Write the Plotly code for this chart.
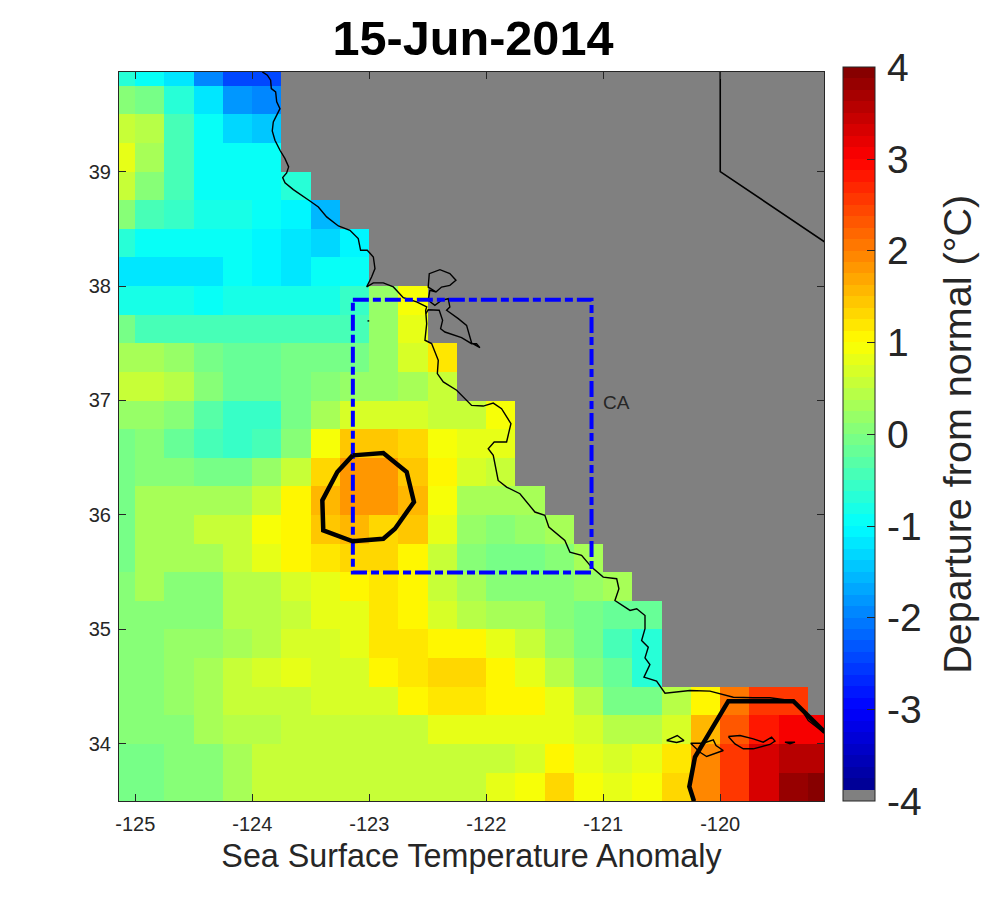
import numpy as np
import plotly.graph_objects as go

N = None

# grid cell centres, 0.25 degree
lons = [-125.125 + 0.25 * i for i in range(25)]
lats = [39.875 - 0.25 * i for i in range(26)]

# SST anomaly, north to south, land is None
sst = [
    [-0.75, -0.9, -1.15, -1.9, -2.4, -2.5, N, N, N, N, N, N, N, N, N, N, N, N, N, N, N, N, N, N, N],
    [0.1, -0.1, -0.75, -1.15, -1.85, -2.0, N, N, N, N, N, N, N, N, N, N, N, N, N, N, N, N, N, N, N],
    [0.6, 0.4, -0.4, -1.0, -1.3, -1.5, N, N, N, N, N, N, N, N, N, N, N, N, N, N, N, N, N, N, N],
    [0.85, 0.25, -0.5, -0.9, -1.0, -1.0, N, N, N, N, N, N, N, N, N, N, N, N, N, N, N, N, N, N, N],
    [0.5, 0.1, -0.5, -0.9, -1.0, -0.9, -0.75, N, N, N, N, N, N, N, N, N, N, N, N, N, N, N, N, N, N],
    [0.0, -0.4, -0.55, -0.85, -0.85, -1.0, -1.1, -1.55, N, N, N, N, N, N, N, N, N, N, N, N, N, N, N, N, N],
    [-0.75, -0.9, -1.0, -1.0, -1.0, -1.1, -1.2, -1.3, -1.05, N, N, N, N, N, N, N, N, N, N, N, N, N, N, N, N],
    [-1.15, -1.15, -1.15, -1.15, -1.0, -1.1, -1.2, -1.0, -0.9, N, N, N, N, N, N, N, N, N, N, N, N, N, N, N, N],
    [-0.85, -0.85, -0.85, -1.0, -0.85, -0.85, -0.85, -0.8, -0.55, 0.15, 0.9, N, N, N, N, N, N, N, N, N, N, N, N, N, N],
    [-0.1, -0.4, -0.4, -0.5, -0.5, -0.5, -0.5, -0.5, -0.4, 0.15, 0.75, N, N, N, N, N, N, N, N, N, N, N, N, N, N],
    [0.35, 0.35, 0.15, -0.1, -0.25, -0.25, -0.1, -0.1, -0.1, 0.15, 0.7, 1.2, N, N, N, N, N, N, N, N, N, N, N, N, N],
    [0.5, 0.5, 0.4, 0.0, -0.25, -0.25, -0.1, 0.05, 0.15, 0.15, 0.35, 0.6, N, N, N, N, N, N, N, N, N, N, N, N, N],
    [0.15, 0.15, 0.1, -0.35, -0.55, -0.55, -0.1, 0.35, 0.7, 0.7, 0.7, 0.6, 0.6, 0.9, N, N, N, N, N, N, N, N, N, N, N],
    [-0.1, 0.1, -0.25, -0.45, -0.55, -0.4, 0.1, 0.9, 1.4, 1.4, 1.25, 0.9, 0.75, 0.85, N, N, N, N, N, N, N, N, N, N, N],
    [-0.1, 0.1, 0.0, -0.1, -0.1, 0.15, 0.6, 1.35, 1.75, 1.75, 1.4, 1.0, 0.65, 0.5, N, N, N, N, N, N, N, N, N, N, N],
    [-0.1, 0.25, 0.25, 0.25, 0.35, 0.55, 1.1, 1.5, 1.75, 1.75, 1.5, 0.9, 0.35, 0.25, 0.25, N, N, N, N, N, N, N, N, N, N],
    [-0.1, 0.35, 0.35, 0.5, 0.55, 0.9, 1.1, 1.45, 1.6, 1.35, 1.4, 0.75, 0.15, 0.0, 0.15, 0.35, N, N, N, N, N, N, N, N, N],
    [-0.05, 0.25, 0.25, 0.25, 0.5, 0.75, 1.0, 1.2, 1.3, 1.3, 1.0, 0.6, 0.1, -0.1, -0.1, 0.0, 0.35, N, N, N, N, N, N, N, N],
    [0.0, 0.25, 0.1, 0.1, 0.4, 0.45, 0.7, 0.85, 1.0, 1.15, 1.0, 0.6, 0.25, 0.1, 0.0, 0.0, 0.15, 0.35, N, N, N, N, N, N, N],
    [0.0, 0.0, 0.1, 0.1, 0.4, 0.45, 0.55, 0.85, 0.85, 1.15, 1.0, 0.7, 0.45, 0.35, 0.25, 0.05, -0.1, -0.2, -0.25, N, N, N, N, N, N],
    [0.0, 0.0, 0.15, 0.15, 0.35, 0.45, 0.7, 0.7, 0.85, 1.15, 1.15, 1.1, 1.0, 0.75, 0.55, 0.15, -0.1, -0.4, -0.75, N, N, N, N, N, N],
    [0.0, 0.0, 0.15, 0.25, 0.5, 0.65, 0.75, 0.7, 0.7, 1.0, 1.15, 1.25, 1.3, 1.0, 0.75, 0.45, 0.1, -0.25, -0.75, N, N, N, N, N, N],
    [0.05, 0.05, 0.15, 0.3, 0.5, 0.6, 0.6, 0.7, 0.7, 0.7, 1.0, 1.15, 1.2, 1.0, 1.0, 0.75, 0.4, -0.1, -0.1, 0.4, 1.1, 2.0, 2.5, 2.5, N],
    [0.0, 0.0, 0.1, 0.25, 0.45, 0.45, 0.55, 0.55, 0.55, 0.55, 0.55, 0.75, 0.85, 0.85, 0.85, 0.85, 0.65, 0.45, 0.4, 0.7, 1.6, 2.25, 2.75, 3.0, 3.1],
    [-0.1, -0.1, 0.05, 0.1, 0.35, 0.5, 0.55, 0.55, 0.55, 0.55, 0.55, 0.55, 0.6, 0.6, 0.7, 1.0, 0.75, 0.7, 0.75, 1.2, 1.9, 2.5, 3.3, 3.6, 3.6],
    [-0.1, -0.1, 0.05, 0.05, 0.3, 0.5, 0.55, 0.55, 0.55, 0.55, 0.55, 0.55, 0.55, 0.75, 0.9, 1.25, 0.9, 0.75, 0.9, 1.35, 1.9, 2.5, 3.3, 3.75, 3.9],
]

coast_lon = [-123.914, -123.871, -123.843, -123.837, -123.800, -123.791, -123.763, -123.791, -123.820, -123.829,
             -123.806, -123.763, -123.720, -123.689, -123.706, -123.740, -123.720, -123.649, -123.592, -123.507,
             -123.435, -123.364, -123.264, -123.165, -123.094, -123.074, -123.017, -122.965, -122.951, -122.980,
             -123.022, -122.965, -122.880, -122.794, -122.709, -122.595, -122.509, -122.518, -122.509, -122.524,
             -122.467, -122.410, -122.418, -122.367, -122.253, -122.125, -122.026, -121.940, -121.869, -121.789,
             -121.826, -121.932, -121.983, -121.940, -121.898, -121.826, -121.712, -121.584, -121.499, -121.465,
             -121.328, -121.285, -121.185, -121.100, -121.000, -120.885, -120.866, -120.900, -120.771, -120.714,
             -120.643, -120.643, -120.672, -120.615, -120.643, -120.601, -120.652, -120.544, -120.472, -120.259,
             -120.088, -119.888, -119.717, -119.575, -119.404, -119.318, -119.247, -119.119]
coast_lat = [39.871, 39.842, 39.798, 39.725, 39.696, 39.609, 39.550, 39.492, 39.434, 39.355,
             39.274, 39.186, 39.113, 39.041, 38.988, 38.947, 38.901, 38.842, 38.799, 38.743,
             38.691, 38.604, 38.525, 38.487, 38.414, 38.312, 38.312, 38.254, 38.152, 38.079,
             37.992, 38.027, 38.027, 37.992, 37.898, 37.861, 37.817, 37.788, 37.671, 37.526,
             37.497, 37.351, 37.234, 37.162, 37.089, 36.957, 36.951, 36.977, 36.928, 36.797,
             36.637, 36.637, 36.578, 36.520, 36.301, 36.243, 36.185, 36.025, 35.996, 35.894,
             35.777, 35.675, 35.646, 35.544, 35.456, 35.442, 35.354, 35.252, 35.165, 35.180,
             35.121, 35.005, 34.903, 34.844, 34.751, 34.693, 34.582, 34.547, 34.442, 34.466,
             34.460, 34.407, 34.402, 34.402, 34.378, 34.320, 34.203, 34.101]

bay_lon = [-122.430, -122.496, -122.487, -122.396, -122.311, -122.259, -122.311, -122.382, -122.430, -122.482,
           -122.496, -122.439, -122.382, -122.325, -122.311, -122.339, -122.239, -122.168, -122.125, -122.054,
           -122.083, -122.125, -122.211, -122.353, -122.390, -122.373, -122.402, -122.496, -122.516]
bay_lat = [37.948, 37.991, 38.108, 38.143, 38.108, 38.050, 38.006, 37.991, 37.948, 37.962,
           37.875, 37.831, 37.875, 37.889, 37.817, 37.788, 37.715, 37.656, 37.502, 37.461,
           37.496, 37.496, 37.549, 37.598, 37.627, 37.700, 37.788, 37.793, 37.758]

# channel islands and the farallones, None splits the outlines
island_lon = [-120.458, -120.415, -120.367, -120.310, -120.373, -120.458, None,
              -120.253, -120.145, -120.059, -120.036, -119.974, -120.116, -120.173, -120.253, None,
              -119.931, -119.831, -119.717, -119.632, -119.561, -119.532, -119.575, -119.717, -119.803, -119.874, -119.931, None,
              -119.447, -119.404, -119.361, -119.447, None,
              -123.015, -123.000]
island_lat = [34.029, 34.052, 34.072, 34.029, 34.011, 34.029, None,
              34.005, 34.005, 34.034, 33.985, 33.941, 33.889, 33.926, 34.005, None,
              34.064, 34.072, 34.043, 34.014, 34.058, 34.023, 33.994, 33.956, 33.956, 33.999, 34.064, None,
              34.014, 34.000, 34.014, 34.014, None,
              37.695, 37.695]

border_lon = [-120.0, -120.0, -119.10]
border_lat = [39.88, 39.0, 38.38]

box_lon = [-123.14, -121.10, -121.10, -123.14, -123.14]
box_lat = [37.88, 37.88, 35.496, 35.496, 37.88]

contour1_lon = [-123.142, -122.880, -122.680, -122.618, -122.780, -122.880, -123.142, -123.393, -123.401, -123.273, -123.142]
contour1_lat = [36.520, 36.541, 36.375, 36.113, 35.879, 35.792, 35.769, 35.865, 36.127, 36.375, 36.520]
contour2_lon = [-120.224, -120.264, -120.216, -119.931, -119.375, -119.105]
contour2_lat = [33.498, 33.626, 33.883, 34.372, 34.372, 34.101]

x_ticks = [-125, -124, -123, -122, -121, -120]
y_ticks = [34, 35, 36, 37, 38, 39]
cbar_ticks = [-4, -3, -2, -1, 0, 1, 2, 3, 4]

FONT = "Liberation Sans"
TEXT = "#262626"
LAND = "rgb(128,128,128)"


def jet_scale(levels=64):
    # matlab style stepped jet, lowest band is the land colour
    scale = []
    for i in range(levels):
        t = (i + 0.5) / levels
        r, g, b = [np.clip(1.5 - abs(4 * t - c), 0, 1) for c in (3, 2, 1)]
        color = f"rgb({int(r * 255)},{int(g * 255)},{int(b * 255)})"
        if i == 0:
            color = LAND
        scale.append([i / levels, color])
        scale.append([(i + 1) / levels, color])
    return scale


def add_line(fig, x, y, color="black", width=1.0, dash=None):
    fig.add_trace(go.Scatter(x=x, y=y, mode="lines", line=dict(color=color, width=width, dash=dash),
                             hoverinfo="skip", showlegend=False))


fig = go.Figure()
fig.add_trace(go.Heatmap(
    x=lons, y=lats, z=sst, zmin=-4, zmax=4, colorscale=jet_scale(), hoverongaps=False,
    colorbar=dict(
        x=1.0269, xanchor="left", xpad=0, y=1.0064, yanchor="top", ypad=0,
        thickness=32, thicknessmode="pixels", len=734, lenmode="pixels",
        outlinecolor=TEXT, outlinewidth=1,
        # the spaces push the labels and the title out from the bar
        tickmode="array", tickvals=cbar_ticks, ticktext=["\u200a" + str(v) + "\u00a0" for v in cbar_ticks],
        ticks="inside", ticklen=8, tickcolor=TEXT, tickwidth=1,
        tickfont=dict(family=FONT, size=39, color=TEXT),
        title=dict(text="Departure from normal (°C)", side="right", font=dict(family=FONT, size=39.5, color=TEXT)),
    ),
))
add_line(fig, border_lon, border_lat, width=1.6)
add_line(fig, coast_lon, coast_lat, width=1.4)
add_line(fig, bay_lon, bay_lat, width=1.4)
add_line(fig, island_lon, island_lat, width=1.4)
add_line(fig, box_lon, box_lat, color="rgb(0,0,255)", width=4, dash="16px,4px,8px,4px")
add_line(fig, contour1_lon, contour1_lat, width=4.5)
add_line(fig, contour2_lon, contour2_lat, width=4.5)

fig.add_annotation(x=-120.886, y=36.986, text="CA", showarrow=False,
                   font=dict(family=FONT, size=19, color=TEXT))

fig.update_layout(
    width=1000, height=900, autosize=False,
    margin=dict(l=119, r=176, t=72, b=99),
    paper_bgcolor="white", plot_bgcolor=LAND,
    title=dict(text="<b>15-Jun-2014</b>", x=0.473, xanchor="center", y=0.958, yanchor="middle",
               font=dict(family=FONT, size=48.6, color="black")),
)
fig.update_xaxes(range=[-125.139, -119.113], tickmode="array", tickvals=x_ticks,
                 ticktext=[str(v) for v in x_ticks], ticks="inside", ticklen=7, tickcolor=TEXT,
                 showgrid=False, zeroline=False, showline=True, linecolor=TEXT, linewidth=1, mirror="ticks",
                 tickfont=dict(family=FONT, size=20, color=TEXT), ticklabelstandoff=5,
                 title=dict(text="Sea Surface Temperature Anomaly", standoff=10,
                            font=dict(family=FONT, size=32.3, color=TEXT)))
fig.update_yaxes(range=[33.5, 39.87], tickmode="array", tickvals=y_ticks,
                 ticktext=[str(v) for v in y_ticks], ticks="inside", ticklen=7, tickcolor=TEXT,
                 showgrid=False, zeroline=False, showline=True, linecolor=TEXT, linewidth=1, mirror="ticks",
                 tickfont=dict(family=FONT, size=20, color=TEXT), ticklabelstandoff=3)

fig.write_html("out.html", config={"displayModeBar": False}, post_script="document.body.style.margin=0")
